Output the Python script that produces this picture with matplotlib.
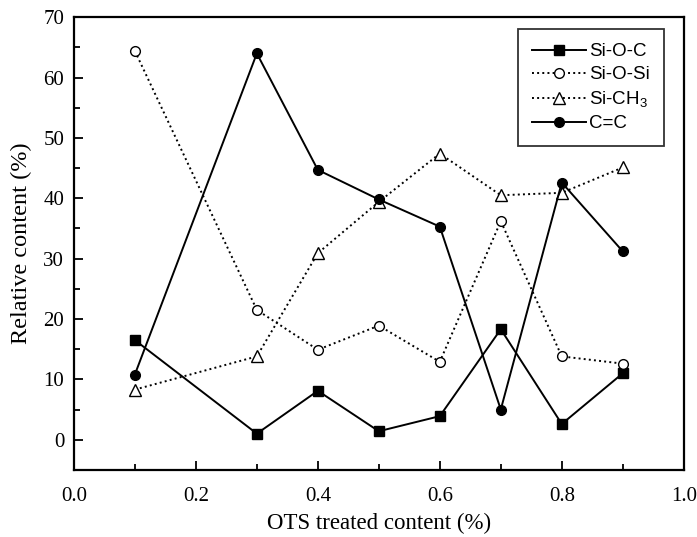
import numpy as np
import matplotlib
matplotlib.use('Agg')
from matplotlib import pyplot as plt
from matplotlib.ticker import MultipleLocator, FormatStrFormatter

x = [0.1, 0.3, 0.4, 0.5, 0.6, 0.7, 0.8, 0.9]
si_o_c = [16.5, 1.0, 8.1, 1.4, 3.9, 18.3, 2.6, 11.0]
si_o_si = [64.4, 21.5, 14.9, 18.9, 12.9, 36.2, 13.8, 12.6]
si_ch3 = [8.3, 13.8, 30.9, 39.4, 47.4, 40.5, 40.9, 45.1]
c_c = [10.8, 64.0, 44.7, 39.8, 35.3, 5.0, 42.6, 31.2]

plt.rcParams['font.family'] = 'Liberation Serif'

fig = plt.figure(figsize=(6.97, 5.37), dpi=100)
ax = fig.add_axes((0.106, 0.125, 0.875, 0.843))

ax.plot(x, si_o_c, '-', color='black', lw=1.4, marker='s', ms=6.5, mfc='black', label='Si-O-C')
ax.plot(x, si_o_si, ':', color='black', lw=1.4, marker='o', ms=7, mfc='white', label='Si-O-Si')
ax.plot(x, si_ch3, ':', color='black', lw=1.4, marker='^', ms=8, mfc='white', label=r'Si-CH$\mathregular{_3}$')
ax.plot(x, c_c, '-', color='black', lw=1.4, marker='o', ms=7, mfc='black', label='C=C')

ax.set_xlim(0, 1.0)
ax.set_ylim(-5, 70)
ax.xaxis.set_major_locator(MultipleLocator(0.2))
ax.xaxis.set_minor_locator(MultipleLocator(0.1))
ax.yaxis.set_major_locator(MultipleLocator(10))
ax.yaxis.set_minor_locator(MultipleLocator(5))
ax.xaxis.set_major_formatter(FormatStrFormatter('%.1f'))
ax.tick_params(which='both', direction='in', width=1.3, labelsize=15)
ax.tick_params(which='major', length=6.5)
ax.tick_params(which='minor', length=4)
ax.tick_params(axis='x', pad=12)
ax.tick_params(axis='y', pad=7)
for s in ax.spines.values():
    s.set_linewidth(1.6)

ax.set_xlabel('OTS treated content (%)', fontsize=16.5, labelpad=5)
ax.set_ylabel('Relative content (%)', fontsize=17.5, labelpad=8)

leg = ax.legend(loc='upper right', bbox_to_anchor=(0.967, 0.974), fancybox=False,
                edgecolor='black', prop={'family': 'Liberation Sans', 'size': 13.5},
                handlelength=2.9, handletextpad=0.15, borderpad=0.75, labelspacing=0.32,
                borderaxespad=0)
leg.get_frame().set_linewidth(1.3)

fig.savefig('out.png', dpi=100)
